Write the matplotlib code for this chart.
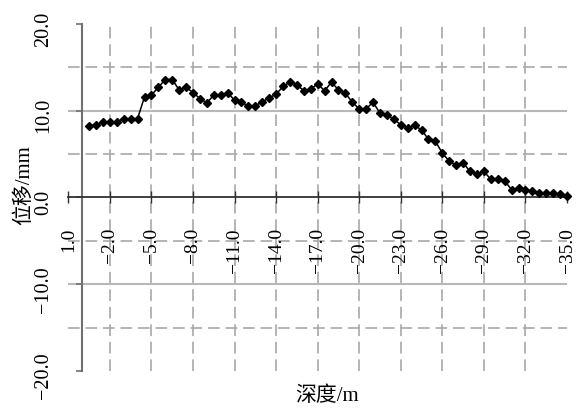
import numpy as np
import matplotlib.pyplot as plt
from matplotlib.transforms import ScaledTranslation

plt.rcParams['font.family'] = ['Liberation Serif', 'Noto Sans CJK SC']
plt.rcParams['axes.unicode_minus'] = True

# depth (m) and displacement (mm)
depth = [-0.5 * (i + 1) for i in range(70)]
disp = [8.2, 8.4, 8.7, 8.7, 8.7, 9.1, 9.0, 9.1, 11.6, 11.8,
        12.7, 13.6, 13.6, 12.4, 12.7, 12.1, 11.4, 10.9, 11.8, 11.8,
        12.1, 11.2, 11.0, 10.5, 10.6, 11.0, 11.5, 11.9, 12.8, 13.3,
        13.0, 12.3, 12.5, 13.1, 12.3, 13.3, 12.4, 12.0, 11.0, 10.2,
        10.2, 11.0, 9.7, 9.5, 9.0, 8.4, 8.0, 8.3, 7.8, 6.7,
        6.5, 5.1, 4.2, 3.7, 4.0, 3.0, 2.7, 3.0, 2.1, 2.1,
        1.9, 0.9, 1.1, 0.9, 0.7, 0.5, 0.5, 0.5, 0.4, 0.2]

xticks = [1.0, -2.0, -5.0, -8.0, -11.0, -14.0, -17.0, -20.0,
          -23.0, -26.0, -29.0, -32.0, -35.0]
yticks = [-20.0, -10.0, 0.0, 10.0, 20.0]
vgrid = [-2, -5, -8, -11, -14, -17, -20, -23, -26, -29, -32]
hgrid_dash = [-15, -5, 5, 15]
hgrid_solid = [-10, 10]

def fmt(v):
    s = '%.1f' % abs(v)
    return ('\u2212' + s) if v < 0 else s

fig = plt.figure(figsize=(5.76, 4.08), dpi=100)
ax = fig.add_axes([0.1186, 0.0907, 0.8658, 0.8505])

ax.set_xlim(1.0, -35.0)
ax.set_ylim(-20, 20)

# grid
for x in vgrid:
    ax.axvline(x, color='#a8a8a8', lw=1.2, dashes=(7, 3.5), zorder=1)
for y in hgrid_dash:
    ax.axhline(y, color='#a8a8a8', lw=1.2, dashes=(7, 3.5), zorder=1)
for y in hgrid_solid:
    ax.axhline(y, color='#b8b8b8', lw=1.5, zorder=1)

ax.plot(depth, disp, color='black', lw=1.1, marker='D', markersize=4,
        zorder=3, clip_on=False)

# spines crossing at the origin
for s in ['top', 'right']:
    ax.spines[s].set_visible(False)
ax.spines['left'].set_position(('data', 0))
ax.spines['bottom'].set_position(('data', 0))
ax.spines['left'].set_color('#707070')
ax.spines['left'].set_linewidth(1.5)
ax.spines['bottom'].set_color('#303030')
ax.spines['bottom'].set_linewidth(1.3)
ax.spines['left'].set_zorder(2)
ax.spines['bottom'].set_zorder(2)

ax.set_xticks(xticks, [fmt(v) for v in xticks])
ax.set_yticks(yticks, [fmt(v) for v in yticks])
ax.tick_params(axis='x', direction='inout', length=8, width=1.0,
               color='#303030', pad=18, labelsize=14, labelrotation=90)
ax.tick_params(axis='y', direction='out', length=4, width=1.2,
               color='#707070', pad=17, labelsize=14.5)
for lab in ax.get_yticklabels():
    lab.set_rotation(90)
    lab.set_va('center')
    lab.set_transform(lab.get_transform() +
                      ScaledTranslation(0, -5 / 100, fig.dpi_scale_trans))

ax.set_xlabel('深度/m', fontsize=15)
ax.set_ylabel('位移/mm', fontsize=15)
ax.xaxis.set_label_coords(0.519, -0.072)
ax.xaxis.label.set_va('center')
ax.yaxis.set_label_coords(-0.0886, 0.536)
ax.yaxis.label.set_va('center')

fig.savefig('out.png', dpi=100)
